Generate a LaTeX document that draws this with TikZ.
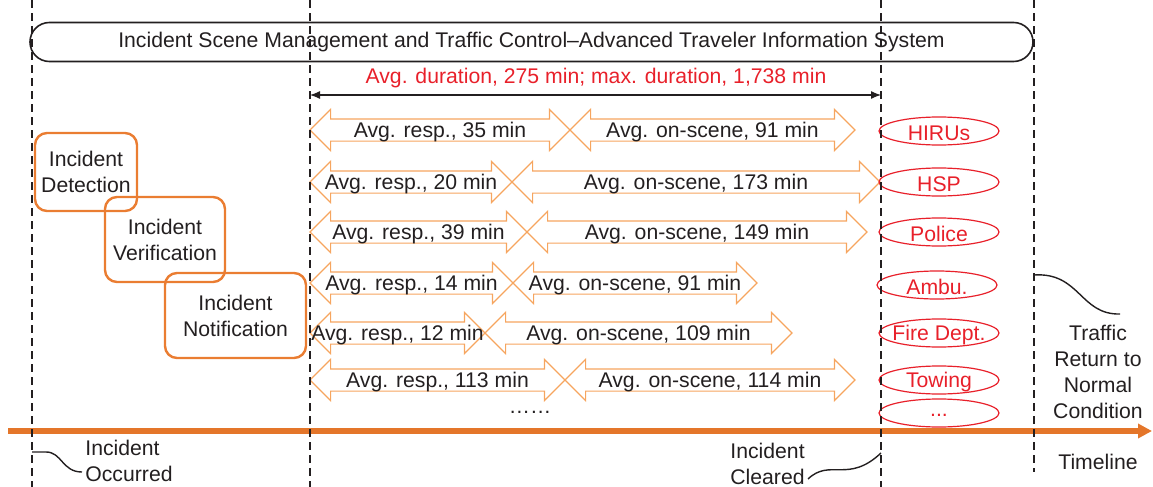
\documentclass[tikz,border=0pt]{standalone}
\usepackage{fontspec}
\setmainfont{Liberation Sans}
\usetikzlibrary{arrows.meta, shapes.geometric, shapes.arrows, positioning}
\definecolor{boxorange}{RGB}{234,125,50}
\definecolor{lineorange}{RGB}{228,118,42}
\definecolor{arroworange}{RGB}{246,165,95}
\definecolor{durred}{RGB}{232,32,42}
\definecolor{ink}{RGB}{35,31,32}

\begin{document}
\begin{tikzpicture}[x=0.5pt, y=-0.5pt, font=\fontsize{10.6}{13}\selectfont, text=ink, every label/.style={yshift=-1pt}]
	\tikzstyle{stage}=[draw=boxorange, line width=1.2pt, rounded corners=6pt, align=center, inner sep=0pt]
	\tikzstyle{dur}=[double arrow, draw=arroworange, line width=0.6pt, text height=5.25pt, text depth=5.25pt, minimum width=20pt, double arrow head extend=4.75pt, inner sep=0pt]
	\tikzstyle{unit}=[ellipse, draw=durred, line width=0.6pt, minimum width=60pt, minimum height=14pt, inner sep=0pt]
	\tikzstyle{border}=[draw=ink, line width=1pt, dash pattern=on 4pt off 2.5pt]
	
	\useasboundingbox (0,0) rectangle (1153,487);
	
	% system bar across the top
	\node[draw=ink, line width=0.8pt, rounded corners=9.7pt, minimum width=501.5pt, minimum height=19.5pt] (isms) at (531.5,42)
		{Incident Scene Management and Traffic Control--Advanced Traveler Information System};
	
	% detection, verification, notification
	\node[stage, minimum width=51pt, minimum height=39pt] (detect) at (86,172) {Incident\\Detection};
	\node[stage, minimum width=60pt, minimum height=42.5pt] (verify) at (165,239.5) {Incident\\Verification};
	\node[stage, minimum width=70.5pt, minimum height=42.5pt] (notify) at (235.5,315.5) {Incident\\Notification};
	
	% total duration
	\node[text=durred] (durtext) at (596,78) {Avg. duration, 275 min; max. duration, 1,738 min};
	\coordinate (durL) at (310,95);
	\coordinate (durR) at (881,95);
	\draw[ink, line width=0.6pt, {Latex[length=5pt,width=4pt]}-{Latex[length=5pt,width=4pt]}] (durL) -- (durR);
	
	% response and on-scene times
	\node[dur, minimum height=130pt, label=center:{Avg. resp., 35 min}] (resp1) at (440,130) {};
	\node[dur, minimum height=142.5pt, label=center:{Avg. on-scene, 91 min}] (scene1) at (712.5,130) {};
	\node[dur, minimum height=101pt, label=center:{Avg. resp., 20 min}] (resp2) at (411,182) {};
	\node[dur, minimum height=184pt, label=center:{Avg. on-scene, 173 min}] (scene2) at (696,182) {};
	\node[dur, minimum height=108.5pt, label=center:{Avg. resp., 39 min}] (resp3) at (418.5,232) {};
	\node[dur, minimum height=170pt, label=center:{Avg. on-scene, 149 min}] (scene3) at (697,232) {};
	\node[dur, minimum height=101.5pt, label=center:{Avg. resp., 14 min}] (resp4) at (411.5,283) {};
	\node[dur, minimum height=122pt, label=center:{Avg. on-scene, 91 min}] (scene4) at (635,283) {};
	\node[dur, minimum height=87.5pt, label=center:{Avg. resp., 12 min}] (resp5) at (397.5,333) {};
	\node[dur, minimum height=153.5pt, label=center:{Avg. on-scene, 109 min}] (scene5) at (638.5,333) {};
	\node[dur, minimum height=127.5pt, label=center:{Avg. resp., 113 min}] (resp6) at (437.5,380) {};
	\node[dur, minimum height=145pt, label=center:{Avg. on-scene, 114 min}] (scene6) at (710,380) {};
	\node (more) at (530,412) {\dots\dots};
	
	% responding units
	\node[unit, label={[durred]center:HIRUs}] (hirus) at (939,131) {};
	\node[unit, label={[durred]center:HSP}] (hsp) at (939,182) {};
	\node[unit, label={[durred]center:Police}] (police) at (939,232) {};
	\node[unit, label={[durred]center:Ambu.}] (ambu) at (937,285) {};
	\node[unit, label={[durred]center:Fire Dept.}] (fire) at (939,333) {};
	\node[unit, label={[durred]center:Towing}] (towing) at (939,380) {};
	\node[unit, label={[durred]center:...}] (others) at (939,413) {};
	
	% timeline
	\coordinate (tl0) at (8,431);
	\coordinate (tl1) at (1152,431);
	\draw[lineorange, line width=3pt, -{Triangle[length=7pt,width=7pt]}] (tl0) -- (tl1);
	
	% phase borders
	\draw[border] (32,0) -- (32,487);
	\draw[border] (310,0) -- (310,487);
	\draw[border] (881,0) -- (881,487);
	\draw[border] (1034,0) -- (1034,472);
	
	% labels at the bottom
	\node[align=left, anchor=west, inner xsep=0pt] (occurred) at (85,461) {Incident\\Occurred};
	\node[align=left, anchor=west, inner xsep=0pt] (cleared) at (730,464) {Incident\\Cleared};
	\node[align=center] (normal) at (1098,372) {Traffic\\Return to\\Normal\\Condition};
	\node (timeline) at (1098,462) {Timeline};
	
	\coordinate (occA) at (32,452);
	\coordinate (occB) at (82,472);
	\coordinate (clrA) at (808,479);
	\coordinate (clrB) at (881,453);
	\coordinate (norA) at (1034,275);
	\coordinate (norB) at (1120,314);
	\draw[ink, line width=0.7pt] (occA) -- ++(14,0) .. controls (62,452) and (62,472) .. (occB);
	\draw[ink, line width=0.7pt] (clrA) .. controls (830,458) and (848,484) .. (clrB);
	\draw[ink, line width=0.7pt] (norA) .. controls (1080,272) and (1080,315) .. (norB);
\end{tikzpicture}
\end{document}
